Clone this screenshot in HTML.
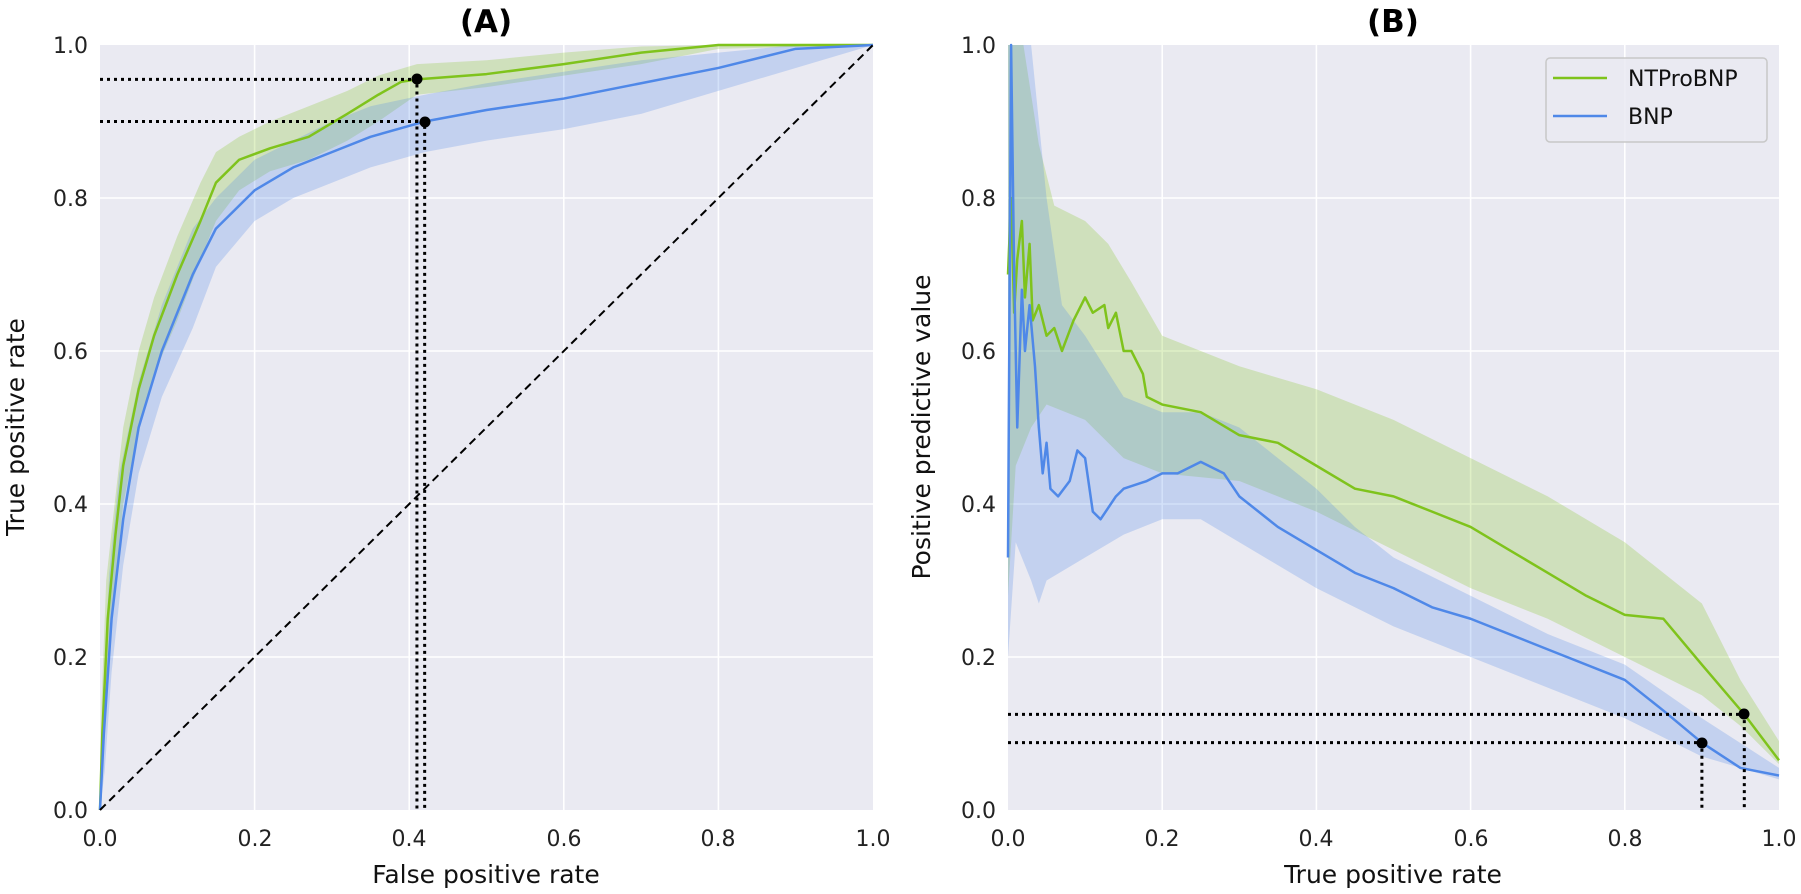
<!DOCTYPE html>
<html><head><meta charset="utf-8"><style>
body{margin:0;background:#fff;}
svg{display:block;font-family:"DejaVu Sans","Liberation Sans",sans-serif;}
</style></head><body>
<svg width="1801" height="894" viewBox="0 0 1801 894" xmlns="http://www.w3.org/2000/svg">
<defs>
<style>
.g{stroke:#fff;stroke-width:1.6;vector-effect:non-scaling-stroke;fill:none}
.ln{fill:none;stroke-width:2.5;vector-effect:non-scaling-stroke;stroke-linejoin:round}
.dt{fill:none;stroke:#000;stroke-width:3;stroke-dasharray:3 4;vector-effect:non-scaling-stroke}
.tk{font-size:22px;fill:#222}
.lab{font-size:25px;fill:#111}
</style>
</defs>
<!-- Panel A -->
<rect x="100" y="45" width="773" height="765" fill="#eaeaf2"/>
<g transform="translate(100,810) scale(773,-765)">
<path class="g" d="M0.2,0V1M0.4,0V1M0.6,0V1M0.8,0V1M0,0.2H1M0,0.4H1M0,0.6H1M0,0.8H1"/>
<path fill="#7fc31c" fill-opacity="0.25" d="M0,0 L0.002,0.14 L0.008,0.3 L0.02,0.41 L0.03,0.5 L0.05,0.6 L0.07,0.67 L0.1,0.75 L0.13,0.82 L0.15,0.86 L0.18,0.88 L0.22,0.9 L0.27,0.92 L0.32,0.94 L0.36,0.96 L0.41,0.975 L0.5,0.98 L0.6,0.99 L0.7,0.998 L0.8,1 L1,1 L1,1 L0.8,0.995 L0.7,0.975 L0.6,0.96 L0.5,0.945 L0.41,0.935 L0.36,0.9 L0.32,0.875 L0.27,0.85 L0.22,0.835 L0.18,0.81 L0.15,0.77 L0.13,0.72 L0.1,0.64 L0.07,0.57 L0.05,0.5 L0.03,0.4 L0.02,0.3 L0.01,0.2 L0.004,0.06 Z"/>
<path fill="#4f88e8" fill-opacity="0.25" d="M0,0 L0.004,0.15 L0.012,0.31 L0.025,0.44 L0.05,0.56 L0.08,0.66 L0.12,0.76 L0.15,0.8 L0.2,0.85 L0.25,0.875 L0.3,0.9 L0.35,0.92 L0.42,0.935 L0.5,0.95 L0.6,0.965 L0.7,0.98 L0.8,0.99 L0.9,1 L1,1 L1,1 L0.9,0.97 L0.8,0.94 L0.7,0.91 L0.6,0.89 L0.5,0.875 L0.42,0.86 L0.35,0.84 L0.3,0.82 L0.25,0.8 L0.2,0.77 L0.15,0.71 L0.12,0.63 L0.08,0.54 L0.05,0.44 L0.03,0.32 L0.015,0.18 L0.006,0.05 Z"/>
<path class="ln" stroke="#7fc31c" d="M0,0 L0.003,0.1 L0.01,0.25 L0.02,0.36 L0.03,0.45 L0.05,0.55 L0.07,0.62 L0.1,0.7 L0.13,0.77 L0.15,0.82 L0.18,0.85 L0.22,0.865 L0.27,0.88 L0.32,0.91 L0.36,0.935 L0.39,0.952 L0.41,0.955 L0.5,0.962 L0.6,0.975 L0.7,0.99 L0.8,1 L1,1"/>
<path class="ln" stroke="#4f88e8" d="M0,0 L0.005,0.1 L0.015,0.25 L0.03,0.38 L0.05,0.5 L0.08,0.6 L0.12,0.7 L0.15,0.76 L0.2,0.81 L0.25,0.84 L0.3,0.86 L0.35,0.88 L0.42,0.9 L0.5,0.915 L0.6,0.93 L0.7,0.95 L0.8,0.97 L0.9,0.995 L1,1"/>
<path fill="none" stroke="#000" stroke-width="2" stroke-dasharray="8 5" vector-effect="non-scaling-stroke" d="M0,0 L1,1"/>
<path class="dt" d="M0,0.955H0.41V0M0,0.9H0.42V0"/>
</g>
<circle cx="417" cy="79" r="5.5" fill="#000"/>
<circle cx="425" cy="122" r="5.5" fill="#000"/>
<text x="486" y="32" font-size="31" font-weight="bold" text-anchor="middle">(A)</text>
<g class="tk" text-anchor="end">
<text x="88" y="818">0.0</text><text x="88" y="665">0.2</text><text x="88" y="512">0.4</text><text x="88" y="359">0.6</text><text x="88" y="206">0.8</text><text x="88" y="53">1.0</text>
</g>
<g class="tk" text-anchor="middle">
<text x="100" y="846">0.0</text><text x="255" y="846">0.2</text><text x="409" y="846">0.4</text><text x="564" y="846">0.6</text><text x="718" y="846">0.8</text><text x="873" y="846">1.0</text>
</g>
<text class="lab" x="486" y="883" text-anchor="middle">False positive rate</text>
<text class="lab" transform="translate(24,427) rotate(-90)" text-anchor="middle">True positive rate</text>

<!-- Panel B -->
<rect x="1008" y="45" width="771" height="765" fill="#eaeaf2"/>
<g transform="translate(1008,810) scale(771,-765)">
<path class="g" d="M0.2,0V1M0.4,0V1M0.6,0V1M0.8,0V1M0,0.2H1M0,0.4H1M0,0.6H1M0,0.8H1"/>
<path fill="#7fc31c" fill-opacity="0.25" d="M0,1 L0.02,1 L0.04,0.87 L0.06,0.79 L0.1,0.77 L0.13,0.74 L0.16,0.69 L0.2,0.62 L0.25,0.6 L0.3,0.58 L0.4,0.55 L0.5,0.51 L0.6,0.46 L0.7,0.41 L0.8,0.35 L0.85,0.31 L0.9,0.27 L0.95,0.17 L1,0.09 L1,0.06 L0.95,0.11 L0.9,0.15 L0.8,0.2 L0.7,0.25 L0.6,0.29 L0.5,0.34 L0.4,0.39 L0.3,0.43 L0.2,0.44 L0.15,0.46 L0.1,0.51 L0.05,0.53 L0.03,0.5 L0.01,0.45 L0,0.28 Z"/>
<path fill="#4f88e8" fill-opacity="0.25" d="M0,1 L0.03,1 L0.05,0.8 L0.07,0.66 L0.1,0.62 L0.15,0.54 L0.2,0.52 L0.25,0.52 L0.3,0.5 L0.35,0.46 L0.4,0.42 L0.45,0.37 L0.5,0.33 L0.6,0.28 L0.7,0.23 L0.8,0.19 L0.9,0.12 L1,0.055 L1,0.04 L0.9,0.07 L0.8,0.12 L0.7,0.16 L0.6,0.2 L0.5,0.24 L0.4,0.29 L0.3,0.35 L0.25,0.38 L0.2,0.38 L0.15,0.36 L0.1,0.33 L0.05,0.3 L0.04,0.27 L0.03,0.3 L0.01,0.35 L0,0.2 Z"/>
<path class="ln" stroke="#7fc31c" d="M0,0.7 L0.004,0.8 L0.008,0.65 L0.012,0.72 L0.018,0.77 L0.022,0.67 L0.028,0.74 L0.032,0.64 L0.04,0.66 L0.05,0.62 L0.06,0.63 L0.07,0.6 L0.085,0.64 L0.1,0.67 L0.11,0.65 L0.125,0.66 L0.13,0.63 L0.14,0.65 L0.15,0.6 L0.16,0.6 L0.175,0.57 L0.18,0.54 L0.2,0.53 L0.25,0.52 L0.3,0.49 L0.35,0.48 L0.4,0.45 L0.45,0.42 L0.5,0.41 L0.55,0.39 L0.6,0.37 L0.65,0.34 L0.7,0.31 L0.75,0.28 L0.8,0.255 L0.85,0.25 L0.9,0.19 L0.955,0.125 L1,0.065"/>
<path class="ln" stroke="#4f88e8" d="M0,0.33 L0.004,1 L0.008,0.7 L0.012,0.5 L0.018,0.68 L0.022,0.6 L0.028,0.66 L0.035,0.58 L0.04,0.5 L0.045,0.44 L0.05,0.48 L0.055,0.42 L0.065,0.41 L0.08,0.43 L0.09,0.47 L0.1,0.46 L0.11,0.39 L0.12,0.38 L0.14,0.41 L0.15,0.42 L0.18,0.43 L0.2,0.44 L0.22,0.44 L0.25,0.455 L0.28,0.44 L0.3,0.41 L0.35,0.37 L0.4,0.34 L0.45,0.31 L0.5,0.29 L0.55,0.265 L0.6,0.25 L0.7,0.21 L0.8,0.17 L0.85,0.13 L0.9,0.088 L0.95,0.055 L1,0.045"/>
<path class="dt" d="M0,0.125H0.955V0M0,0.088H0.9V0"/>
</g>
<circle cx="1744" cy="714" r="5.5" fill="#000"/>
<circle cx="1702" cy="743" r="5.5" fill="#000"/>
<text x="1393" y="32" font-size="31" font-weight="bold" text-anchor="middle">(B)</text>
<g class="tk" text-anchor="end">
<text x="996" y="818">0.0</text><text x="996" y="665">0.2</text><text x="996" y="512">0.4</text><text x="996" y="359">0.6</text><text x="996" y="206">0.8</text><text x="996" y="53">1.0</text>
</g>
<g class="tk" text-anchor="middle">
<text x="1008" y="846">0.0</text><text x="1162" y="846">0.2</text><text x="1316" y="846">0.4</text><text x="1471" y="846">0.6</text><text x="1625" y="846">0.8</text><text x="1779" y="846">1.0</text>
</g>
<text class="lab" x="1393" y="883" text-anchor="middle">True positive rate</text>
<text class="lab" transform="translate(930,427) rotate(-90)" text-anchor="middle">Positive predictive value</text>
<!-- legend -->
<rect x="1546" y="58" width="221" height="84" rx="4" fill="#eaeaf2" fill-opacity="0.85" stroke="#c8c8c8" stroke-width="1.5"/>
<line x1="1553" y1="78" x2="1607" y2="78" stroke="#7fc31c" stroke-width="2.5"/>
<line x1="1553" y1="116" x2="1607" y2="116" stroke="#4f88e8" stroke-width="2.5"/>
<text x="1628" y="86" font-size="22" fill="#111">NTProBNP</text>
<text x="1628" y="124" font-size="22" fill="#111">BNP</text>
</svg>
</body></html>
